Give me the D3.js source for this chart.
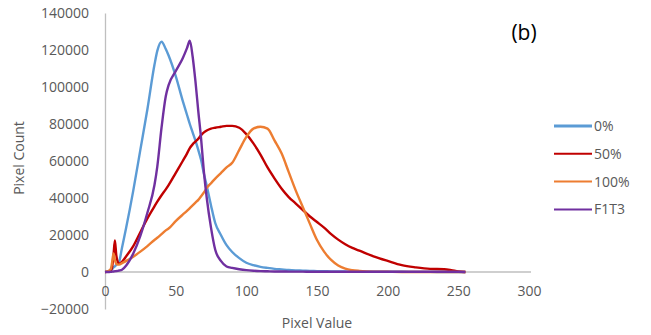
<!DOCTYPE html>
<html>
<head>
<meta charset="utf-8">
<script src="https://cdn.jsdelivr.net/npm/d3@7"></script>
<style>
  body { margin: 0; background: #fff; }
  svg text { font-family: "Open Sans", "Liberation Sans", sans-serif; }
</style>
</head>
<body>
<svg id="chart" width="651" height="335"></svg>
<script>
// pixel values sampled along the x axis
const pixelValues = [0, 2, 4, 5, 6, 7, 8, 9, 10,
  12, 15, 20, 25, 30, 35, 37, 40, 43, 45,
  50, 55, 58, 60, 62, 64, 66, 68, 70, 72,
  75, 78, 82, 86, 90, 95, 100, 105, 110, 115,
  120, 125, 130, 135, 140, 145, 150, 155, 160, 165,
  170, 175, 180, 190, 200, 210, 220, 230, 240, 245,
  250, 255];

const count0 = [0, 300, 1000, 1500, 2500, 3000, 4000, 4500, 5500,
  13000, 24000, 44000, 66000, 88000, 112000, 119500, 124500, 120500, 117000,
  106000, 92500, 85000, 80000, 75500, 71000, 66000, 60500, 53000, 46500,
  36000, 26500, 20000, 14500, 10800, 7500, 5000, 3700, 2800, 2200,
  1700, 1400, 1100, 900, 750, 600, 500, 400, 350, 300,
  250, 200, 200, 150, 100, 100, 50, 50, 0, 0,
  0, 0];

const count50 = [0, 200, 800, 2500, 9000, 17000, 9000, 5500, 4500,
  5500, 8500, 14000, 21500, 29000, 35500, 38000, 41500, 44700, 47000,
  53500, 60000, 64000, 67000, 69000, 70500, 72000, 74000, 75500, 76500,
  77500, 78000, 78500, 79000, 79000, 78000, 74500, 69500, 63500, 56500,
  50500, 45000, 40500, 37000, 33500, 30000, 27000, 24000, 20500, 17500,
  15000, 13000, 11500, 8500, 6000, 3700, 2500, 1700, 1500, 1000,
  300, 0];

const count100 = [0, 300, 1500, 5000, 10000, 6500, 4500, 4000, 4000,
  4800, 6000, 8300, 11000, 14000, 17300, 18500, 20500, 22500, 23500,
  27500, 31000, 33000, 34500, 36000, 37500, 39000, 41000, 43000, 45500,
  48000, 50500, 53500, 56500, 59000, 66000, 73000, 77500, 78500, 77500,
  71000, 64000, 54000, 44000, 35000, 26000, 17300, 11000, 6500, 3500,
  1800, 1000, 600, 200, 100, 0, 0, 0, 0, 0,
  0, 0];

const countF1T3 = [0, 0, 100, 200, 300, 400, 500, 600, 800,
  1200, 3500, 10000, 19500, 32000, 47000, 57000, 78000, 95000, 101000,
  108500, 115500, 121000, 125000, 116500, 103000, 87000, 72000, 54000, 40000,
  24000, 12000, 6000, 3000, 2200, 1500, 1000, 700, 500, 400,
  300, 300, 200, 200, 200, 150, 150, 100, 100, 100,
  100, 100, 100, 100, 100, 100, 100, 100, 100, 100,
  100, 0];

const seriesNames = ['0%', '50%', '100%', 'F1T3'];
const seriesColors = ['#5B9BD5', '#C00000', '#ED7D31', '#7030A0'];
const xTicks = [0, 50, 100, 150, 200, 250, 300];
const yTicks = [-20000, 0, 20000, 40000, 60000, 80000, 100000, 120000, 140000];

const seriesCounts = [count0, count50, count100, countF1T3];

const svg = d3.select('#chart');
const plotLeft = 105, plotRight = 529, plotTop = 13, plotBottom = 309;

let x = d3.scaleLinear().domain([0, 300]).range([plotLeft, plotRight]);
let y = d3.scaleLinear().domain([-20000, 140000]).range([plotBottom, plotTop]);

// y axis: vertical line + labels
let yAxis = svg.append('g').attr('transform', `translate(${plotLeft},0)`)
  .call(d3.axisLeft(y).tickValues(yTicks).tickSize(0).tickPadding(16).tickFormat(d3.format('d')));
yAxis.select('.domain').attr('stroke', '#BFBFBF').attr('stroke-width', 1.3);
yAxis.selectAll('text').attr('fill', '#595959').style('font-size', '14px');

// x axis sits on the zero line
let xAxis = svg.append('g').attr('transform', `translate(0,${y(0)})`)
  .call(d3.axisBottom(x).tickValues(xTicks).tickSize(0).tickPadding(14));
xAxis.select('.domain').attr('stroke', '#BFBFBF').attr('stroke-width', 1.3)
  .attr('d', `M${plotLeft},0H${plotRight + 2}`);
xAxis.selectAll('text').attr('fill', '#595959').style('font-size', '14px');

// series lines
let line = d3.line()
  .x((d, i) => x(pixelValues[i]))
  .y(d => y(d))
  .curve(d3.curveMonotoneX);

svg.append('g').selectAll('path').data(seriesCounts).join('path')
  .attr('d', d => line(d))
  .attr('fill', 'none')
  .attr('stroke', (d, i) => seriesColors[i])
  .attr('stroke-width', 2.4)
  .attr('stroke-linejoin', 'round');

// legend
let legend = svg.append('g').selectAll('g').data(seriesNames).join('g')
  .attr('transform', (d, i) => `translate(554,${126 + i * 27.8})`);
legend.append('line')
  .attr('x1', 0).attr('x2', 38).attr('y1', 0).attr('y2', 0)
  .attr('stroke', (d, i) => seriesColors[i])
  .attr('stroke-width', (d, i) => i == 0 ? 3 : 2);
legend.append('text')
  .attr('x', 40).attr('y', 0).attr('dy', '0.35em')
  .attr('fill', '#595959').style('font-size', '14px')
  .text(d => d);

// axis titles
svg.append('text')
  .attr('transform', 'translate(24,158) rotate(-90)')
  .attr('text-anchor', 'middle')
  .attr('fill', '#595959').style('font-size', '14px')
  .text('Pixel Count');
svg.append('text')
  .attr('x', 317).attr('y', 328)
  .attr('text-anchor', 'middle')
  .attr('fill', '#595959').style('font-size', '14px')
  .text('Pixel Value');

// panel label
svg.append('text')
  .attr('x', 524).attr('y', 40)
  .attr('text-anchor', 'middle')
  .attr('fill', '#000').style('font-size', '21px')
  .text('(b)');
</script>
</body>
</html>
